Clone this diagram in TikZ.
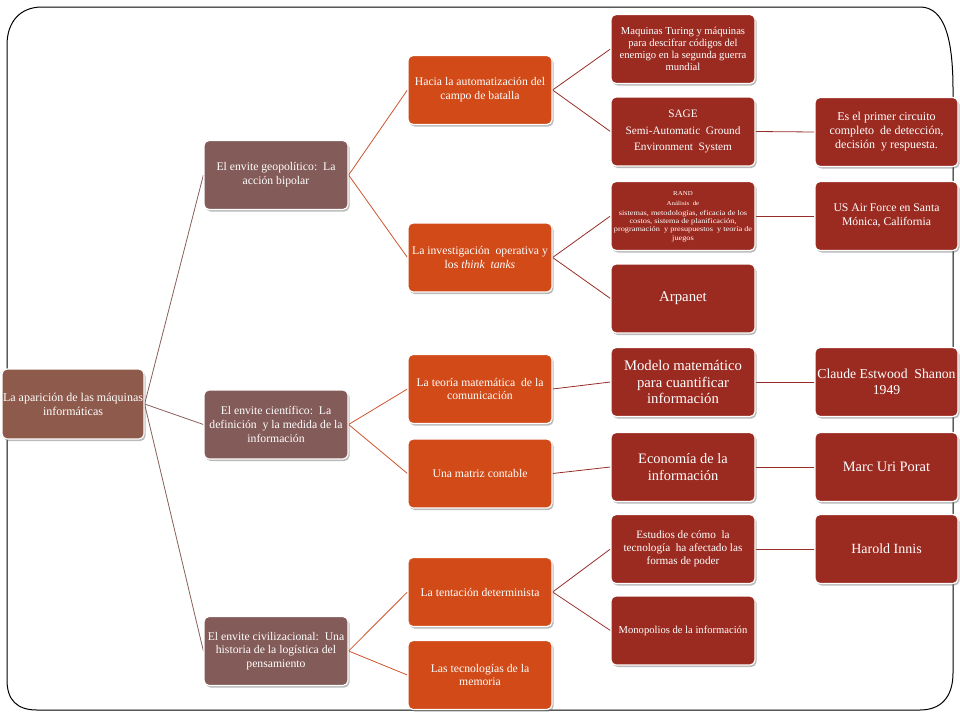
\documentclass[tikz,border=0pt]{standalone}
\usepackage{fontspec}
\usepackage{graphicx}
\setmainfont{Liberation Serif}
\usetikzlibrary{shadows,backgrounds}
\definecolor{rootc}{RGB}{142,90,76}
\definecolor{lonec}{RGB}{131,91,89}
\definecolor{ltwoc}{RGB}{209,74,24}
\definecolor{lthreec}{RGB}{155,43,33}
\definecolor{rootline}{RGB}{135,95,90}
\definecolor{oneline}{RGB}{205,85,45}
\definecolor{twoline}{RGB}{150,45,40}
\newcommand{\fsz}[2]{\fontsize{#1}{#2}\selectfont}
\begin{document}
\begin{tikzpicture}[x=1pt,y=-1pt,
  box/.style={rectangle, rounded corners=5pt, draw=white, line width=1.2pt,
    text=white, align=center, inner sep=2pt, minimum width=144pt, minimum height=69pt,
    drop shadow={shadow xshift=1.5pt, shadow yshift=-2pt, opacity=0.45, fill=black!60}},
  rootbox/.style={box, fill=rootc, minimum width=142pt, minimum height=70pt},
  onebox/.style={box, fill=lonec},
  twobox/.style={box, fill=ltwoc},
  threebox/.style={box, fill=lthreec},
  fourbox/.style={box, fill=lthreec, minimum width=143pt},
  conn/.style={line width=0.8pt}]
\useasboundingbox (0,0) rectangle (960,720);
% nodes
\node[rootbox, font=\fsz{12}{14}, inner sep=1pt] (root) at (73,404) {La aparición de las máquinas\\informáticas};
\node[onebox, font=\fsz{11.7}{13.8}] (ga) at (276,175) {El envite geopolítico:\ \ La\\acción bipolar};
\node[onebox, font=\fsz{11.7}{13.8}] (gb) at (276,424.5) {El envite científico:\ \ La\\definición\ \ y la medida de la\\información};
\node[onebox, font=\fsz{11.7}{13.8}] (gc) at (276,651) {El envite civilizacional:\ \ Una\\historia de la logística del\\pensamiento};
\node[twobox, font=\fsz{11.7}{13.8}] (ha) at (480,90) {Hacia la automatización del\\campo de batalla};
\node[twobox, font=\fsz{11.7}{13.8}] (hb) at (480,257.5) {La investigación\ \ operativa y\\los \textit{think\ \ tanks}};
\node[twobox, font=\fsz{11.7}{13.8}] (hc) at (480,389) {La teoría matemática\ \ de la\\comunicación};
\node[twobox, font=\fsz{11.7}{13.8}] (hd) at (480,473.5) {Una matriz contable};
\node[twobox, font=\fsz{11.7}{13.8}] (he) at (480,592) {La tentación determinista};
\node[twobox, font=\fsz{11.7}{13.8}] (hf) at (480,675) {Las tecnologías de la\\memoria};
\node[threebox, font=\fsz{10.6}{11.8}] (ia) at (683,49) {Maquinas Turing y máquinas\\para descifrar códigos del\\enemigo en la segunda guerra\\mundial};
\node[threebox, font=\fsz{11.3}{16.5}] (ib) at (683,131.5) {SAGE\\Semi-Automatic\ \ Ground\\Environment\ \ System};
\node[threebox, inner sep=1pt] (ic) at (683,216) {\scalebox{1.15}[1]{\fsz{7.2}{8.3}\begin{tabular}{@{}c@{}}%
  {\fsz{6}{8}RAND}\\[2.5pt]{\fsz{6}{8}Análisis\ \ de}\\[1pt]sistemas, metodologías, eficacia de los\\costos, sistema de planificación,\\programación\ \ y presupuestos\ \ y teoría de\\juegos\end{tabular}}};
\node[threebox, font=\fsz{14.8}{16.5}] (id) at (683,298.5) {Arpanet};
\node[threebox, font=\fsz{14.7}{16.5}] (ie) at (683,382) {Modelo matemático\\para cuantificar\\información};
\node[threebox, font=\fsz{14.4}{16.5}] (if) at (683,467) {Economía de la\\información};
\node[threebox, font=\fsz{11.2}{13}] (ig) at (683,549) {Estudios de cómo\ \ la\\tecnología\ \ ha afectado las\\formas de poder};
\node[threebox, font=\fsz{10.6}{11}] (ih) at (683,630.5) {Monopolios de la información};
\node[fourbox, font=\fsz{12}{14}] (ja) at (886.5,132) {Es el primer circuito\\completo\ \ de detección,\\decisión\ \ y respuesta.};
\node[fourbox, font=\fsz{11.7}{14}] (jb) at (886.5,216) {US Air Force en Santa\\Mónica, California};
\node[fourbox, font=\fsz{13.7}{16}, inner sep=1pt] (jc) at (886.5,382) {Claude Estwood\ \ Shanon\\1949};
\node[fourbox, font=\fsz{14.4}{16}] (jd) at (886.5,467) {Marc Uri Porat};
\node[fourbox, font=\fsz{14}{16}] (je) at (886.5,549) {Harold Innis};
\begin{scope}[on background layer]
\draw[line width=1pt] (7,45) -- (7,680) .. controls (7,700) and (17,710) .. (37,710)
  -- (920,710) .. controls (940,710) and (953,698) .. (953,673)
  -- (953,90) .. controls (953,40) and (945,7) .. (920,7)
  -- (42,7) .. controls (20,7) and (7,22) .. (7,45) -- cycle;
\foreach \c in {ga,gb,gc} \draw[conn, rootline] (root.east) -- (\c.west);
\draw[conn, oneline] (ga.east) -- (ha.west);
\draw[conn, oneline] (ga.east) -- (hb.west);
\draw[conn, oneline] (gb.east) -- (hc.west);
\draw[conn, oneline] (gb.east) -- (hd.west);
\draw[conn, oneline] (gc.east) -- (he.west);
\draw[conn, oneline] (gc.east) -- (hf.west);
\draw[conn, twoline] (ha.east) -- (ia.west);
\draw[conn, twoline] (ha.east) -- (ib.west);
\draw[conn, twoline] (hb.east) -- (ic.west);
\draw[conn, twoline] (hb.east) -- (id.west);
\draw[conn, twoline] (hc.east) -- (ie.west);
\draw[conn, twoline] (hd.east) -- (if.west);
\draw[conn, twoline] (he.east) -- (ig.west);
\draw[conn, twoline] (he.east) -- (ih.west);
\draw[conn, twoline] (ib.east) -- (ja.west);
\draw[conn, twoline] (ic.east) -- (jb.west);
\draw[conn, twoline] (ie.east) -- (jc.west);
\draw[conn, twoline] (if.east) -- (jd.west);
\draw[conn, twoline] (ig.east) -- (je.west);
\end{scope}
\end{tikzpicture}
\end{document}
